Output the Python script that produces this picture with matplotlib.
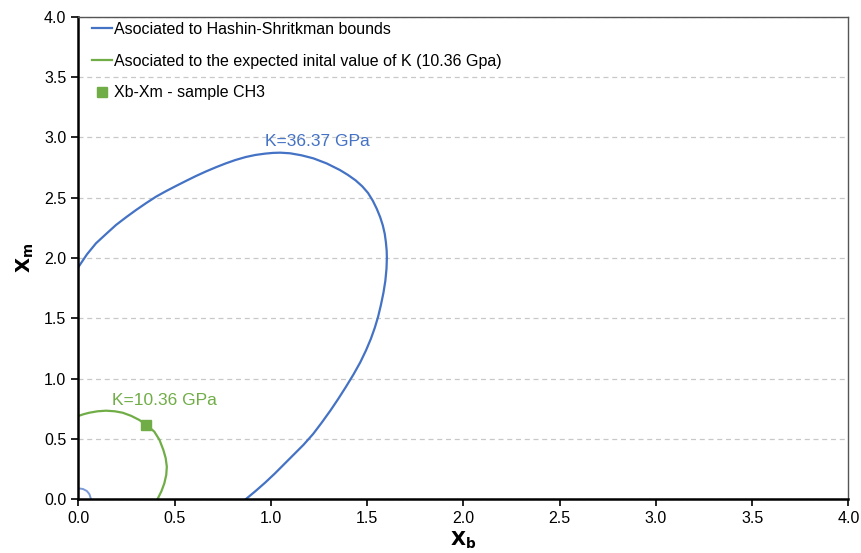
import matplotlib.pyplot as plt

plt.rcParams['font.family'] = ['Liberation Sans', 'DejaVu Sans']

# curva Hashin-Shtrikman (K=36.37 GPa)
hs_xb = [0.002, 0.045, 0.092, 0.145, 0.196, 0.25, 0.30, 0.352, 0.404, 0.456, 0.508,
         0.56, 0.611, 0.663, 0.715, 0.766, 0.816, 0.87, 0.92, 0.97, 1.01, 1.049, 1.10,
         1.16, 1.221, 1.29, 1.359, 1.40, 1.44, 1.475, 1.505, 1.53, 1.55, 1.568, 1.582,
         1.592, 1.598, 1.602, 1.603, 1.601, 1.595, 1.585, 1.572, 1.557, 1.54, 1.52,
         1.495, 1.465, 1.43, 1.39, 1.35, 1.31, 1.265, 1.22, 1.17, 1.12, 1.07, 1.02,
         0.97, 0.92, 0.871]
hs_xm = [1.928, 2.03, 2.122, 2.20, 2.274, 2.34, 2.398, 2.455, 2.509, 2.555, 2.598,
         2.64, 2.68, 2.718, 2.753, 2.785, 2.813, 2.838, 2.855, 2.866, 2.872, 2.874, 2.869,
         2.852, 2.827, 2.785, 2.730, 2.690, 2.645, 2.595, 2.54, 2.475, 2.41, 2.34, 2.27,
         2.20, 2.13, 2.06, 2.0, 1.91, 1.81, 1.71, 1.61, 1.51, 1.42, 1.33,
         1.235, 1.135, 1.035, 0.93, 0.83, 0.735, 0.635, 0.54, 0.45, 0.37, 0.29, 0.21,
         0.135, 0.065, 0.0]

# pequeno arco perto da origem
hs2_xb = [0.0, 0.025, 0.045, 0.058, 0.066]
hs2_xm = [0.089, 0.083, 0.066, 0.04, 0.0]

# curva do valor inicial esperado (K=10.36 GPa)
k_xb = [0.0, 0.028, 0.057, 0.10, 0.144, 0.19, 0.231, 0.275, 0.317, 0.358, 0.395,
        0.422, 0.442, 0.454, 0.46, 0.457, 0.447, 0.432, 0.412]
k_xm = [0.689, 0.704, 0.716, 0.728, 0.733, 0.728, 0.716, 0.69, 0.656, 0.61, 0.559,
        0.49, 0.407, 0.34, 0.268, 0.20, 0.13, 0.065, 0.0]

# amostra CH3
sample_xb = [0.352]
sample_xm = [0.614]

blue = '#4472C4'
green = '#70AD47'

fig = plt.figure(figsize=(8.61, 5.53), dpi=100)
ax = fig.add_axes([0.0909, 0.0976, 0.8944, 0.8717])

ax.plot(hs_xb, hs_xm, color=blue, lw=1.6, label='Asociated to Hashin-Shritkman bounds')
ax.plot(k_xb, k_xm, color=green, lw=1.6,
        label='Asociated to the expected inital value of K (10.36 Gpa)')
ax.plot(hs2_xb, hs2_xm, color='#7a9bd8', lw=1.4)
ax.plot(sample_xb, sample_xm, 's', color=green, ms=7, ls='none', label='Xb-Xm - sample CH3')

ax.text(1.24, 2.97, 'K=36.37 GPa', color=blue, fontsize=12.5, ha='center', va='center')
ax.text(0.45, 0.82, 'K=10.36 GPa', color=green, fontsize=12.5, ha='center', va='center')

ax.set_xlim(0, 4)
ax.set_ylim(0, 4)
ax.set_xticks([i * 0.5 for i in range(9)])
ax.set_yticks([i * 0.5 for i in range(9)])
ax.xaxis.set_major_formatter(plt.FormatStrFormatter('%.1f'))
ax.yaxis.set_major_formatter(plt.FormatStrFormatter('%.1f'))
ax.tick_params(labelsize=11.5, length=5, width=1.2, color='black', direction='out')
ax.yaxis.grid(True, ls=(0, (4, 3)), color='#c8c8c8', lw=0.9)
ax.set_axisbelow(True)

for s in ['left', 'bottom']:
    ax.spines[s].set_linewidth(1.8)
    ax.spines[s].set_color('black')
for s in ['top', 'right']:
    ax.spines[s].set_linewidth(1.0)
    ax.spines[s].set_color('#555555')

ax.set_xlabel(r'$\mathbf{X_b}$', fontsize=14, labelpad=3)
ax.set_ylabel(r'$\mathbf{X_m}$', fontsize=14, labelpad=6)

ax.legend(loc='upper left', frameon=False, fontsize=11.5, handlelength=1.3,
          handletextpad=0.1, labelspacing=1.05, borderaxespad=0.2,
          bbox_to_anchor=(0.005, 1.01))

fig.savefig('out.png', dpi=100)
